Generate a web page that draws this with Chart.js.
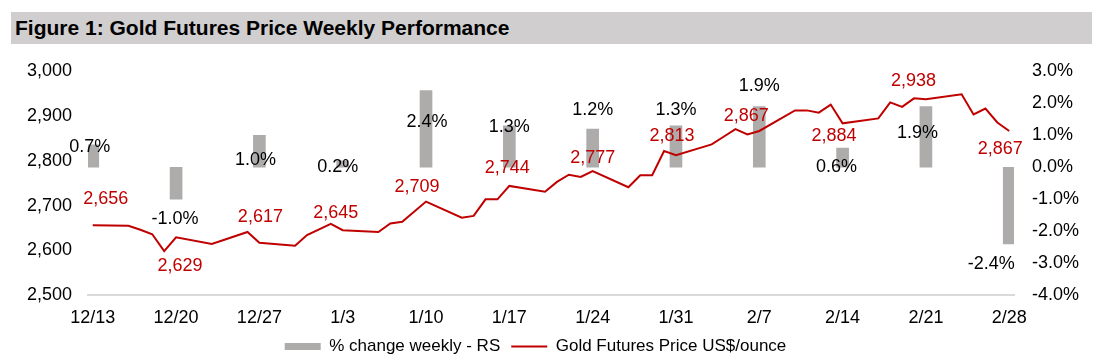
<!DOCTYPE html>
<html>
<head>
<meta charset="utf-8">
<script src="https://cdn.jsdelivr.net/npm/chart.js@4.4.1/dist/chart.umd.min.js"></script>
<style>
  body { margin: 0; background: #fff; overflow: hidden; width: 1107px; height: 363px; position: relative; font-family: "Liberation Sans", Arial, sans-serif; }
  #title { position: absolute; left: 11px; top: 12px; width: 1081px; height: 32px; background: #d0cece; color: #000;
           font-weight: bold; font-size: 21px; line-height: 32px; padding-left: 4px; box-sizing: border-box; }
  canvas { position: absolute; left: 0; top: 0; }
</style>
</head>
<body>
<div id="title">Figure 1: Gold Futures Price Weekly Performance</div>
<canvas id="goldChart" width="1107" height="365"></canvas>
<script>
// weekly (Friday) values
const weekLabels = ['12/13', '12/20', '12/27', '1/3', '1/10', '1/17', '1/24', '1/31', '2/7', '2/14', '2/21', '2/28'];
const weeklyChange = [0.7, -1.0, 1.0, 0.2, 2.4, 1.3, 1.2, 1.3, 1.9, 0.6, 1.9, -2.4];
const weeklyClose = [2656, 2629, 2617, 2645, 2709, 2744, 2777, 2813, 2867, 2884, 2938, 2867];

// daily gold futures price
const priceDates = ['12/13', '12/16', '12/17', '12/18', '12/19', '12/20', '12/23', '12/24', '12/26', '12/27',
  '12/30', '12/31', '1/2', '1/3', '1/6', '1/7', '1/8', '1/10', '1/13', '1/14', '1/15', '1/16', '1/17',
  '1/20', '1/21', '1/22', '1/23', '1/24', '1/27', '1/28', '1/29', '1/30', '1/31', '2/3', '2/4', '2/5', '2/6', '2/7',
  '2/10', '2/11', '2/12', '2/13', '2/14', '2/17', '2/18', '2/19', '2/20', '2/21', '2/24', '2/25', '2/26', '2/27', '2/28'];
const priceValues = [2656, 2655, 2646, 2636, 2598, 2629, 2614, 2623, 2641, 2617,
  2610, 2634, 2659, 2645, 2641, 2660, 2664, 2709, 2673, 2677, 2714, 2714, 2744,
  2731, 2753, 2769, 2764, 2777, 2741, 2768, 2768, 2822, 2813, 2837, 2854, 2871, 2859, 2867,
  2913, 2913, 2908, 2926, 2884, 2895, 2931, 2921, 2940, 2938, 2949, 2904, 2917, 2886, 2867];

// label nudges in pixels (where the labels sit around each weekly point)
const changeLabelDx = [-3, -1, -4, -5, 1, 0, 0, 0, 0, -6, -8.5, -18];
const changeLabelDy = [2, 20, 25, 6, 31, 1, -19, -16, -21, 18.5, 26, 20];
const priceLabelDx = [13, 4, 1, -7, -9, -2, 0, -4, -13, -8.5, -12.5, -9];
const priceLabelDy = [-26, 29, -26, -17, -15, -17.5, -13.5, -19, -15, 13, -18, 18.5];

const FONT = '"Liberation Sans", Arial, sans-serif';
const RED = '#c00000';
const GREY = '#aeabab';

// days since 12/13
function dayOf(s) {
  const [m, d] = s.split('/').map(Number);
  const y = m === 12 ? 2024 : 2025;
  return (Date.UTC(y, m - 1, d) - Date.UTC(2024, 11, 13)) / 86400000;
}
const weekDays = weekLabels.map(dayOf);

Chart.defaults.font.family = FONT;

const weekLabelPlugin = {
  id: 'weekLabels',
  afterDatasetsDraw(chart) {
    const { ctx, scales: { x, y, y1 } } = chart;
    ctx.save();
    ctx.font = '18px ' + FONT;
    ctx.textAlign = 'center';
    ctx.textBaseline = 'middle';
    weekDays.forEach((d, i) => {
      const px = x.getPixelForValue(d);
      ctx.fillStyle = '#000';
      ctx.fillText(weeklyChange[i].toFixed(1) + '%', px + changeLabelDx[i], y1.getPixelForValue(weeklyChange[i]) + changeLabelDy[i]);
      ctx.fillStyle = RED;
      ctx.fillText(weeklyClose[i].toLocaleString('en-US'), px + priceLabelDx[i], y.getPixelForValue(weeklyClose[i]) + priceLabelDy[i]);
    });
    ctx.restore();
  }
};

// legend sits a little left of the page centre
const legendShift = {
  id: 'legendShift',
  afterLayout(chart) {
    chart.legend.left -= 18;
    chart.legend.right -= 18;
  }
};

new Chart(document.getElementById('goldChart'), {
  type: 'line',
  data: {
    datasets: [
      {
        type: 'bar',
        label: '% change weekly - RS',
        data: weekDays.map((d, i) => ({ x: d, y: weeklyChange[i] })),
        yAxisID: 'y1',
        backgroundColor: GREY,
        barThickness: 12,
        order: 1
      },
      {
        type: 'line',
        label: 'Gold Futures Price US$/ounce',
        data: priceDates.map((s, i) => ({ x: dayOf(s), y: priceValues[i] })),
        yAxisID: 'y',
        borderColor: RED,
        backgroundColor: RED,
        borderWidth: 2,
        pointRadius: 0,
        tension: 0,
        order: 0
      }
    ]
  },
  options: {
    responsive: false,
    animation: false,
    layout: { padding: { top: 71.5, left: 0, right: 0, bottom: 0 } },
    plugins: {
      tooltip: { enabled: false },
      legend: {
        position: 'bottom',
        labels: {
          usePointStyle: true,
          pointStyleWidth: 36,
          boxHeight: 7,
          padding: 11,
          color: '#000',
          font: { size: 17 },
          generateLabels(chart) {
            const items = Chart.defaults.plugins.legend.labels.generateLabels(chart)
              .sort((a, b) => a.datasetIndex - b.datasetIndex);
            items.forEach(it => {
              if (it.datasetIndex === 0) {
                it.pointStyle = 'rect'; it.lineWidth = 0; it.fillStyle = GREY; it.strokeStyle = GREY;
              } else {
                it.pointStyle = 'line'; it.lineWidth = 2; it.strokeStyle = RED;
              }
            });
            return items;
          }
        }
      }
    },
    scales: {
      x: {
        type: 'linear',
        min: -0.4,
        max: 77.4,
        offset: false,
        grid: { display: false, drawTicks: false },
        border: { display: true, color: '#d9d9d9', width: 2 },
        ticks: {
          autoSkip: false,
          maxRotation: 0,
          padding: 12,
          color: '#000',
          font: { size: 18 },
          callback: v => weekLabels[weekDays.indexOf(v)] ?? ''
        },
        afterBuildTicks: s => { s.ticks = weekDays.map(v => ({ value: v })); },
        afterFit: s => { s.height = 32; }
      },
      y: {
        position: 'left',
        min: 2500,
        max: 3000,
        grid: { display: false, drawTicks: false },
        border: { display: false },
        ticks: { stepSize: 100, padding: 16, color: '#000', font: { size: 18 }, callback: v => v.toLocaleString('en-US') },
        afterFit: s => { s.width = 88; }
      },
      y1: {
        position: 'right',
        min: -4,
        max: 3,
        grid: { display: false, drawTicks: false },
        border: { display: false },
        ticks: { stepSize: 1, padding: 18, color: '#000', font: { size: 18 }, callback: v => v.toFixed(1) + '%' },
        afterFit: s => { s.width = 93; }
      }
    }
  },
  plugins: [weekLabelPlugin, legendShift]
});
</script>
</body>
</html>
